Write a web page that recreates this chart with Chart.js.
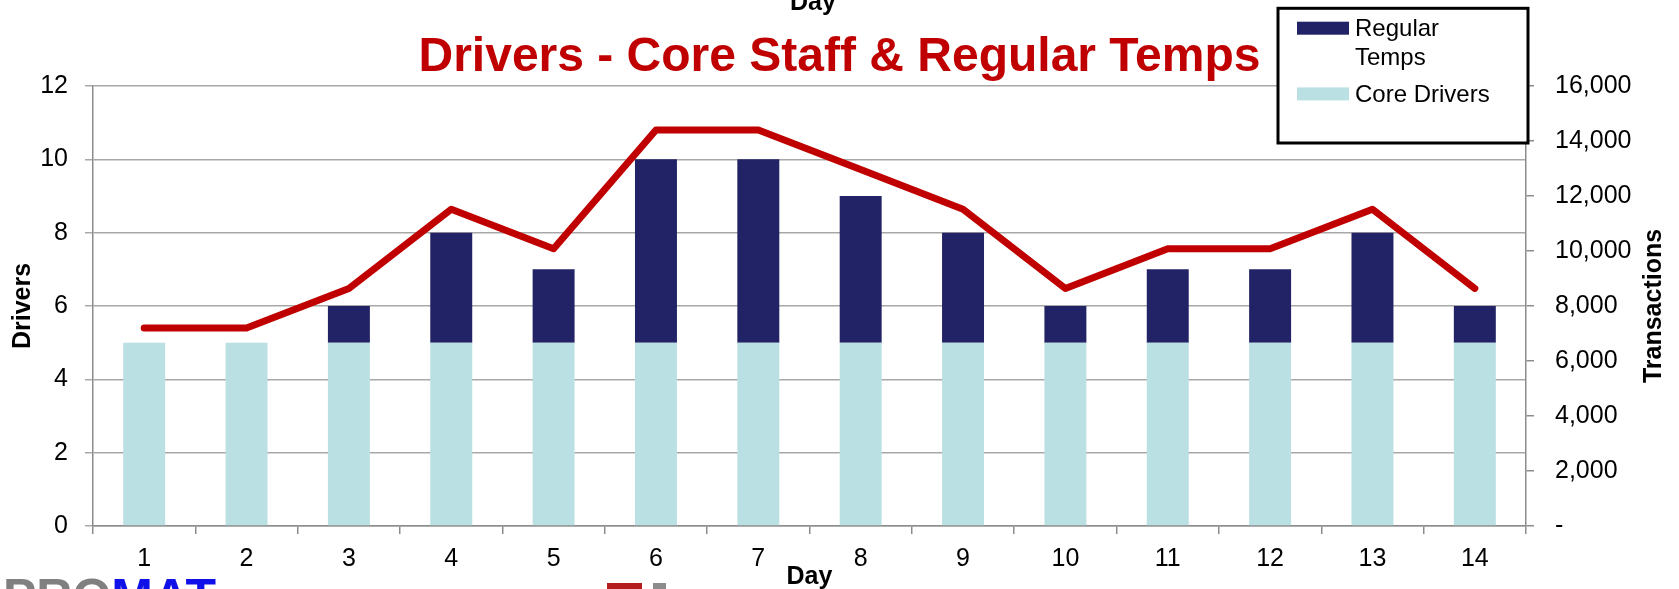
<!DOCTYPE html>
<html>
<head>
<meta charset="utf-8">
<title>Drivers - Core Staff & Regular Temps</title>
<script src="https://cdn.jsdelivr.net/npm/chart.js@4.4.1/dist/chart.umd.min.js"></script>
<style>
  html, body { margin: 0; padding: 0; background: #fff; overflow: hidden; }
  #wrap { position: relative; width: 1679px; height: 589px; overflow: hidden; }
  #driversChart { position: absolute; left: 0; top: 0; }
  .frag { position: absolute; font-family: 'Liberation Sans', Arial, sans-serif; white-space: nowrap; }
  #topDay { left: 790px; top: -11px; font-size: 25px; line-height: 25px; font-weight: bold; color: #000; }
  #logo { left: 3px; top: 572px; font-size: 50px; line-height: 50px; font-weight: bold; }
  #logo .pro { color: #808080; }
  #logo .mat { color: #1010e8; }
  .logoBit { position: absolute; top: 583px; height: 10px; }
</style>
</head>
<body>
<div id="wrap">
  <canvas id="driversChart" width="1679" height="589"></canvas>
  <div class="frag" id="topDay">Day</div>
  <div class="frag" id="logo"><span class="pro">PRO</span><span class="mat">MAT</span></div>
  <div class="logoBit" style="left:607px;width:35px;background:#b41e1e"></div>
  <div class="logoBit" style="left:653px;width:13px;background:#8c8c8c"></div>
</div>
<script>
// values
const days = ['1', '2', '3', '4', '5', '6', '7', '8', '9', '10', '11', '12', '13', '14'];
const coreDrivers = [5, 5, 5, 5, 5, 5, 5, 5, 5, 5, 5, 5, 5, 5];
const regularTemps = [0, 0, 1, 3, 2, 5, 5, 4, 3, 1, 2, 2, 3, 1];
const transactions = [7200, 7200, 8640, 11520, 10080, 14400, 14400, 12960, 11520, 8640, 10080, 10080, 11520, 8640];

const FONT = "'Liberation Sans', Arial, sans-serif";
const AXIS_GREY = '#8c8c8c';
const GRID_GREY = '#a8a8a8';

Chart.defaults.font.family = FONT;
Chart.defaults.color = '#000';

// legend with a black frame, drawn over the top right corner like the original
const boxLegend = {
    id: 'boxLegend',
    afterDraw(chart) {
        const ctx = chart.ctx;
        const area = chart.chartArea;
        const items = chart.data.datasets.filter(d => d.type === 'bar').reverse();
        const left = area.right - 248, top = 8.3, w = 250, h = 134.7;

        ctx.save();
        ctx.fillStyle = '#fff';
        ctx.fillRect(left, top, w, h);
        ctx.lineWidth = 3;
        ctx.strokeStyle = '#000';
        ctx.strokeRect(left, top, w, h);

        ctx.font = '24px ' + FONT;
        ctx.textBaseline = 'alphabetic';
        let y = top + 27.7;
        items.forEach(ds => {
            // wrap the label the way the narrow legend does
            const words = ds.label.split(' ');
            const lines = [];
            let cur = '';
            words.forEach(wd => {
                const test = cur ? cur + ' ' + wd : wd;
                if (cur && ctx.measureText(test).width > 150) { lines.push(cur); cur = wd; }
                else cur = test;
            });
            lines.push(cur);

            ctx.fillStyle = ds.backgroundColor;
            ctx.fillRect(left + 19, y - 14.3, 52, 13);
            ctx.fillStyle = '#000';
            lines.forEach((ln, i) => ctx.fillText(ln, left + 77, y + i * 29));
            y += (lines.length - 1) * 29 + 36.7;
        });
        ctx.restore();
    }
};

// right axis title reads bottom-to-top, which the built-in title won't do on the right
const rightTitle = {
    id: 'rightTitle',
    afterDraw(chart) {
        const s = chart.scales.y2;
        const ctx = chart.ctx;
        ctx.save();
        ctx.translate(s.right - 25, (chart.chartArea.top + chart.chartArea.bottom) / 2);
        ctx.rotate(-Math.PI / 2);
        ctx.font = 'bold 25px ' + FONT;
        ctx.fillStyle = '#000';
        ctx.textAlign = 'center';
        ctx.textBaseline = 'middle';
        ctx.fillText('Transactions', 0, 0);
        ctx.restore();
    }
};

const driversChart = new Chart(document.getElementById('driversChart').getContext('2d'), {
    data: {
        labels: days,
        datasets: [
            {
                type: 'line',
                label: 'Transactions',
                data: transactions,
                yAxisID: 'y2',
                borderColor: '#c00000',
                borderWidth: 7,
                borderCapStyle: 'round',
                borderJoinStyle: 'round',
                pointRadius: 0,
                tension: 0,
                order: 0
            },
            {
                type: 'bar',
                label: 'Core Drivers',
                data: coreDrivers,
                yAxisID: 'y',
                backgroundColor: '#bbe0e3',
                barPercentage: 0.41,
                categoryPercentage: 1,
                order: 1
            },
            {
                type: 'bar',
                label: 'Regular Temps',
                data: regularTemps,
                yAxisID: 'y',
                backgroundColor: '#222266',
                barPercentage: 0.41,
                categoryPercentage: 1,
                order: 1
            }
        ]
    },
    options: {
        responsive: false,
        animation: false,
        devicePixelRatio: 1,
        layout: { padding: 0 },
        plugins: {
            legend: { display: false },
            tooltip: { enabled: false },
            title: {
                display: true,
                text: 'Drivers - Core Staff & Regular Temps',
                color: '#c00000',
                font: { size: 48, weight: 'bold' },
                padding: { top: 29.2, bottom: -0.8 }
            }
        },
        scales: {
            x: {
                stacked: true,
                grid: { offset: true, drawOnChartArea: false, drawTicks: true, tickLength: 8, color: AXIS_GREY, lineWidth: 1.5 },
                border: { color: AXIS_GREY, width: 1.5 },
                ticks: { font: { size: 25 }, color: '#000', padding: 10, maxRotation: 0 },
                title: { display: true, text: 'Day', font: { size: 25, weight: 'bold' }, color: '#000', padding: { top: 0, bottom: -3 } },
                afterFit: s => { s.height = 63; }
            },
            y: {
                stacked: true,
                position: 'left',
                min: 0,
                max: 12,
                ticks: { stepSize: 2, font: { size: 25 }, color: '#000', padding: 17 },
                grid: { color: GRID_GREY, lineWidth: 1.5, tickLength: 8 },
                border: { color: AXIS_GREY, width: 1.5 },
                title: { display: true, text: 'Drivers', font: { size: 25, weight: 'bold' }, color: '#000', padding: { top: 8, bottom: 0 } },
                afterFit: s => { s.width = 93; }
            },
            y2: {
                position: 'right',
                min: 0,
                max: 16000,
                ticks: {
                    stepSize: 2000,
                    font: { size: 25 },
                    color: '#000',
                    padding: 21,
                    callback: v => v === 0 ? '-' : v.toLocaleString('en-US')
                },
                grid: { drawOnChartArea: false, tickLength: 8, color: AXIS_GREY, lineWidth: 1.5 },
                border: { color: AXIS_GREY, width: 1.5 },
                afterFit: s => { s.width = 153; }
            }
        }
    },
    plugins: [rightTitle, boxLegend]
});
</script>
</body>
</html>
